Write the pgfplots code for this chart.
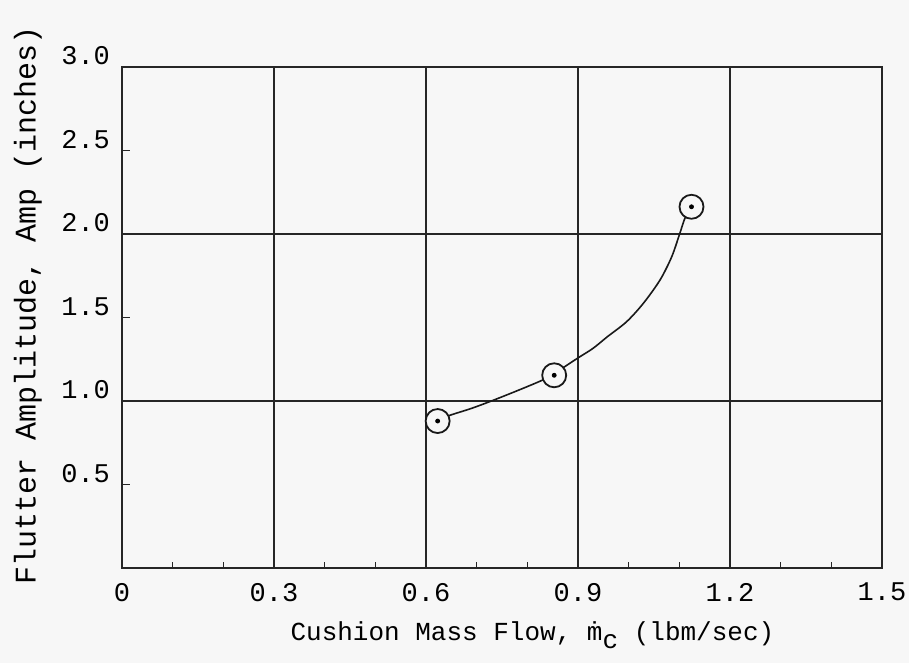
\documentclass[border=0pt]{standalone}
\usepackage{fontspec}
\setmainfont{Liberation Mono}
\usepackage{pgfplots}
\pgfplotsset{compat=1.18}
\begin{document}
\begin{tikzpicture}[x=1pt,y=1pt]
\fill[black!3] (0,0) rectangle (454.5,331.5);
\path[use as bounding box] (0,0) rectangle (454.5,331.5);
\begin{axis}[
  at={(61pt,47.5pt)}, anchor=south west,
  width=380pt, height=250.5pt, scale only axis,
  xmin=0, xmax=1.5, ymin=0, ymax=3,
  axis line style={line width=1.1pt, black!85},
  xtick={0,0.3,0.6,0.9,1.2,1.5},
  xticklabels={0,0.3,0.6,0.9,1.2,1.5},
  minor x tick num=2,
  ytick={0.5,1,1.5,2,2.5,3},
  yticklabels={0.5,1.0,1.5,2.0,2.5,3.0},
  extra y ticks={1,2}, extra y tick labels={},
  extra y tick style={grid=major, major tick length=0pt},
  xmajorgrids,
  grid style={line width=0.7pt, black!85},
  xtick pos=bottom, ytick pos=left,
  tick align=inside,
  major tick length=4pt, minor tick length=3pt,
  tick style={line width=0.8pt, black!85},
  xticklabel style={font=\fontsize{13.5}{16}\selectfont, yshift=-4pt},
  yticklabel style={font=\fontsize{13.5}{16}\selectfont, xshift=-2.5pt, yshift=5.5pt},
  xlabel={Cushion Mass Flow, ṁ\raisebox{-0.55ex}{c} (lbm/sec)},
  ylabel={Flutter Amplitude, Amp (inches)},
  xlabel style={font=\fontsize{13}{16}\selectfont, at={(axis description cs:0.54,-0.134)}, anchor=center},
  ylabel style={font=\fontsize{15}{18}\selectfont, at={(axis description cs:-0.124,0.525)}, anchor=center},
]
\addplot[smooth, tension=0.5, line width=0.8pt, black!90] coordinates {
 (0.623,0.88) (0.645,0.912) (0.689,0.955) (0.729,1.0) (0.782,1.064) (0.829,1.124)
 (0.853,1.165) (0.876,1.21) (0.9,1.258) (0.930,1.316) (0.958,1.385) (0.996,1.475)
 (1.029,1.585) (1.062,1.725) (1.085,1.864) (1.101,2.004) (1.111,2.094) (1.124,2.163)
};
\addplot[only marks, mark=*, mark size=6pt, mark options={fill=black!3, draw=black!90, line width=0.9pt}] coordinates {
 (0.623,0.88) (0.853,1.154) (1.124,2.163)
};
\addplot[only marks, mark=*, mark size=1pt, black] coordinates {
 (0.623,0.88) (0.853,1.154) (1.124,2.163)
};
\end{axis}
\end{tikzpicture}
\end{document}
